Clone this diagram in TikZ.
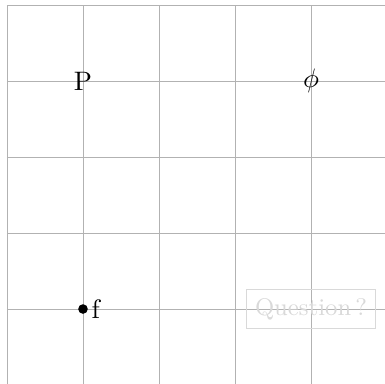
\documentclass[tikz,border=0pt]{standalone}
\begin{document}
\begin{tikzpicture}
\tikzset{
  gridline/.style={draw=black!30, line width=0.25pt},
  lbl/.style={inner sep=0pt},
  dotnode/.style={circle, fill=black, inner sep=0pt, minimum size=3.6pt},
  qbox/.style={draw=gray!30, text=gray!30, line width=0.4pt, font=\small}
}
\useasboundingbox (-0.092,0.026) rectangle (4.974,5.066);
\draw[gridline] (0,0) grid (5,5);
\node[lbl] (p) at (1,4) {P};
\node[lbl] (phi) at (4,4) {$\phi$};
\node[dotnode, label={[inner sep=1pt]right:f}] (f) at (1,1) {};
\node[qbox] (q) at (4,1) {Question\,?};
\end{tikzpicture}
\end{document}
